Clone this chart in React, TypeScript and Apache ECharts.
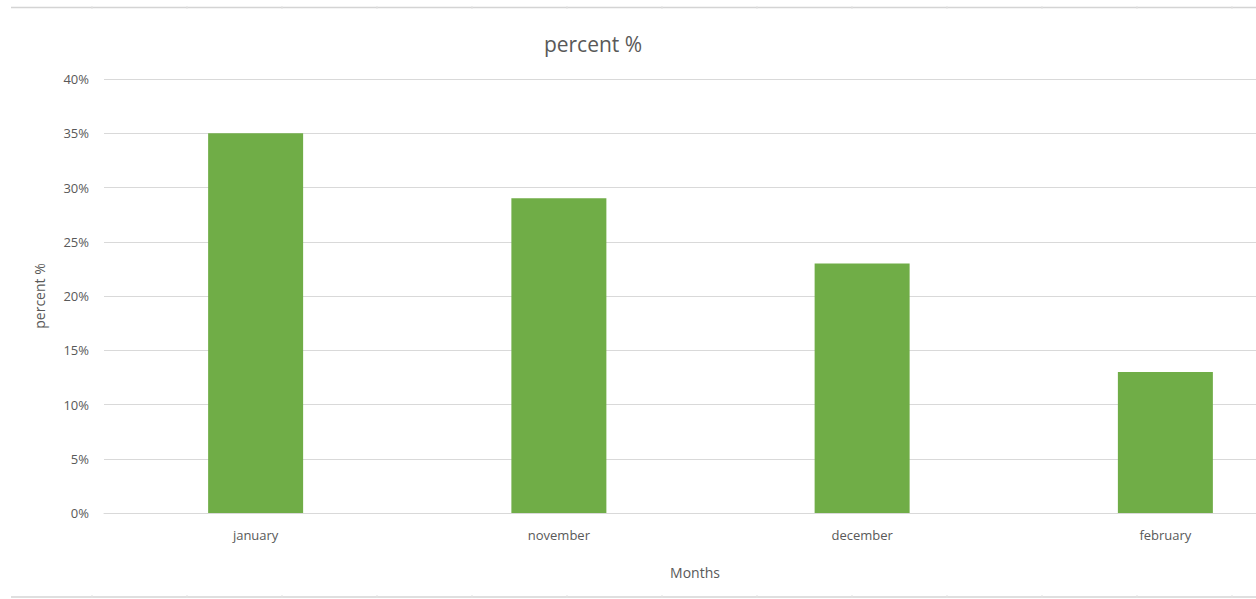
import React, { useEffect, useRef } from "react";
import * as echarts from "echarts";

const categories = ["january", "november", "december", "february"];
const percentValues = [35, 29, 23, 13];
const yTicks = [0, 5, 10, 15, 20, 25, 30, 35, 40];

const FONT = "'Open Sans', 'Noto Sans', sans-serif";
const TEXT = "#595959";
const W = 1317;

export default function App() {
  const ref = useRef<HTMLDivElement>(null);
  useEffect(() => {
    if (!ref.current) return;
    const chart = echarts.init(ref.current, null, { renderer: "svg" });
    const borderTicks: any[] = [];
    for (let x = 92; x < W; x += 95) {
      borderTicks.push({ type: "line", shape: { x1: x, y1: 6, x2: x, y2: 9 }, style: { stroke: "#e3e3e3", lineWidth: 1 } });
      borderTicks.push({ type: "line", shape: { x1: x, y1: 595, x2: x, y2: 598 }, style: { stroke: "#e3e3e3", lineWidth: 1 } });
    }
    chart.setOption({
      animation: false,
      backgroundColor: "#ffffff",
      title: {
        text: "percent %",
        left: 588,
        top: 28,
        textAlign: "center",
        textStyle: { fontFamily: FONT, fontSize: 21, fontWeight: "normal", color: TEXT },
      },
      grid: { left: 104, right: 0, top: 79, bottom: 86, containLabel: false },
      xAxis: {
        type: "category",
        data: categories,
        axisLine: { show: true, lineStyle: { color: "#d9d9d9", width: 1 } },
        axisTick: { show: false },
        axisLabel: { color: TEXT, fontFamily: FONT, fontSize: 13, margin: 15 },
        splitLine: { show: false },
      },
      yAxis: {
        type: "value",
        min: 0,
        max: 40,
        interval: 5,
        name: "percent %",
        nameLocation: "middle",
        nameGap: 58,
        nameRotate: 90,
        nameTextStyle: { color: TEXT, fontFamily: FONT, fontSize: 14 },
        axisLine: { show: false },
        axisTick: { show: false },
        axisLabel: {
          color: TEXT,
          fontFamily: FONT,
          fontSize: 13,
          margin: 15,
          formatter: (v: number) => (yTicks.includes(v) ? v + "%" : ""),
        },
        splitLine: { show: true, lineStyle: { color: "#d9d9d9", width: 1 } },
      },
      series: [
        {
          type: "bar",
          data: percentValues,
          barWidth: 95,
          itemStyle: { color: "#70ad47" },
        },
      ],
      graphic: [
        { type: "line", shape: { x1: 11, y1: 7.5, x2: W, y2: 7.5 }, style: { stroke: "#d4d4d4", lineWidth: 1.5 } },
        { type: "line", shape: { x1: 11, y1: 597, x2: W, y2: 597 }, style: { stroke: "#d4d4d4", lineWidth: 1.5 } },
        ...borderTicks,
        {
          type: "text",
          x: 695,
          y: 572,
          style: {
            text: "Months",
            fill: TEXT,
            font: `14px ${FONT}`,
            textAlign: "center",
            textVerticalAlign: "middle",
          },
        },
      ],
    });
    return () => chart.dispose();
  }, []);
  return (
    <div
      ref={ref}
      style={{ position: "fixed", left: 0, top: 0, width: W, height: 599, background: "#fff" }}
    />
  );
}
